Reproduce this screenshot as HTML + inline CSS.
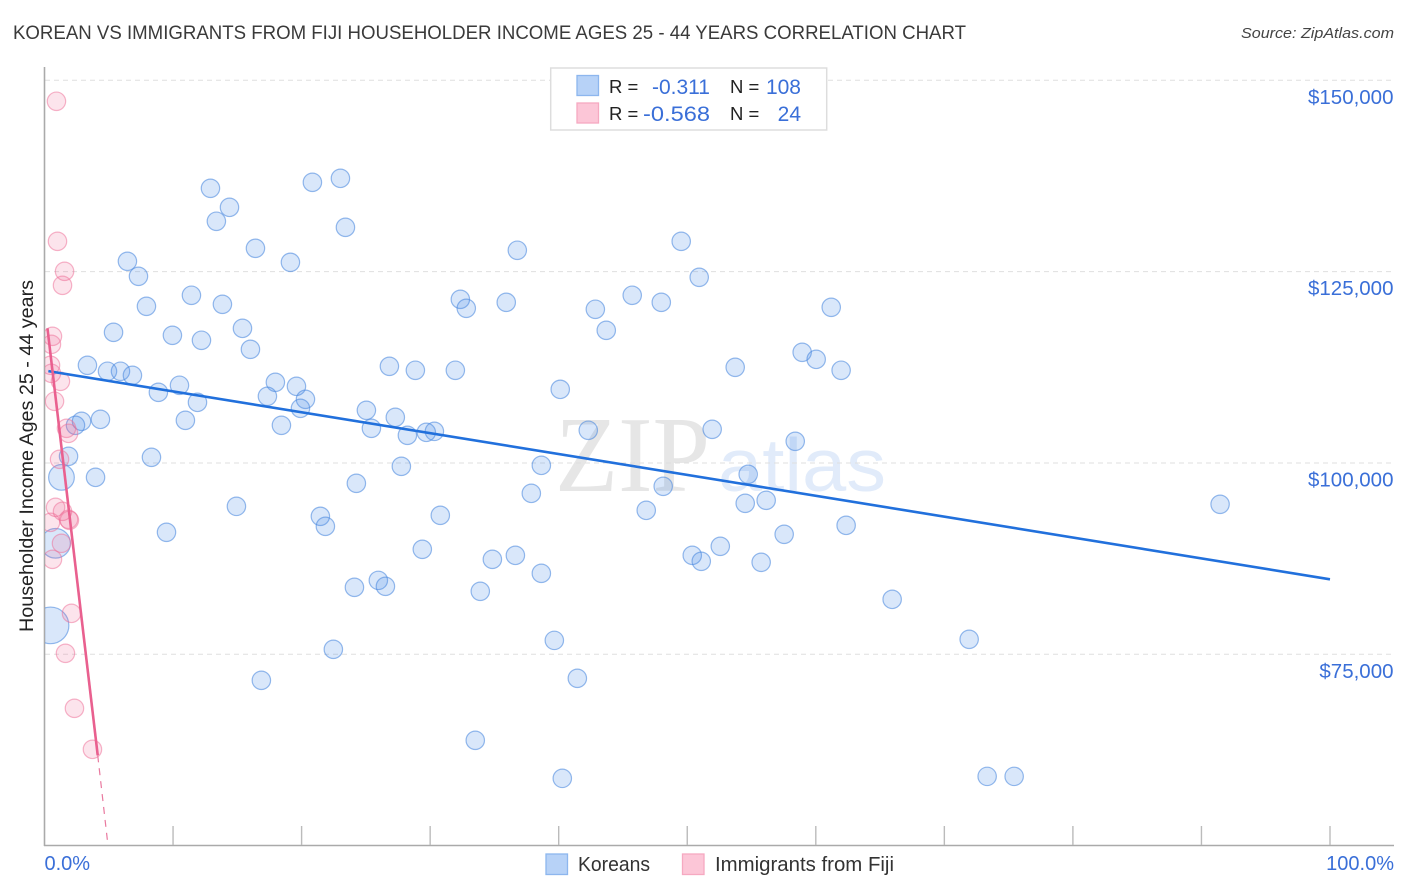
<!DOCTYPE html>
<html lang="en">
<head>
<meta charset="utf-8">
<title>Korean vs Immigrants from Fiji Householder Income Correlation Chart</title>
<style>
html,body{margin:0;padding:0;background:#fff;width:1406px;height:892px;overflow:hidden}
svg{display:block;font-family:"Liberation Sans",sans-serif}
</style>
</head>
<body>
<svg id="chart" xmlns="http://www.w3.org/2000/svg" width="1406" height="892" viewBox="0 0 1406 892">
  <defs>
    <clipPath id="plot-clip"><rect x="45" y="60" width="1349" height="785"/></clipPath>
  </defs>
  <text x="13" y="39" font-size="19" fill="#3a3a3a" textLength="953" lengthAdjust="spacingAndGlyphs">KOREAN VS IMMIGRANTS FROM FIJI HOUSEHOLDER INCOME AGES 25 - 44 YEARS CORRELATION CHART</text>
  <text x="1394" y="38" font-size="15" font-style="italic" fill="#444" text-anchor="end" textLength="153" lengthAdjust="spacingAndGlyphs">Source: ZipAtlas.com</text>

  <g>
    <text x="555" y="491" font-family="'Liberation Serif',serif" font-size="108" fill="#e6e6e6" textLength="155" lengthAdjust="spacingAndGlyphs">ZIP</text>
    <text x="718" y="491" font-size="75" fill="#e1ebfa" textLength="168" lengthAdjust="spacingAndGlyphs">atlas</text>
  </g>

  <g id="grid"></g>
  <g id="axes"></g>
  <g id="korean-points" clip-path="url(#plot-clip)"></g>
  <g id="fiji-points" clip-path="url(#plot-clip)"></g>
  <g id="trends"></g>
  <g id="tick-labels"></g>

  <text transform="translate(33,456) rotate(-90)" font-size="19" fill="#222" text-anchor="middle" textLength="352" lengthAdjust="spacingAndGlyphs">Householder Income Ages 25 - 44 years</text>

  <g>
    <rect x="550.7" y="68" width="276" height="62" fill="#fff" stroke="#ddd" stroke-width="1.5"/>
    <rect x="577" y="75.5" width="21.5" height="20" fill="#b7d2f7" stroke="#8db6ee" stroke-width="1.3"/>
    <rect x="577" y="103" width="21.5" height="20" fill="#fcc6d7" stroke="#f6a9c1" stroke-width="1.3"/>
    <text x="609" y="93" font-size="18.5" fill="#222">R =</text>
    <text x="710" y="94" font-size="21" fill="#3a6fd8" text-anchor="end" textLength="58" lengthAdjust="spacingAndGlyphs">-0.311</text>
    <text x="730" y="93" font-size="18.5" fill="#222">N =</text>
    <text x="801" y="94" font-size="21" fill="#3a6fd8" text-anchor="end">108</text>
    <text x="609" y="120" font-size="18.5" fill="#222">R =</text>
    <text x="710" y="121" font-size="21" fill="#3a6fd8" text-anchor="end" textLength="67" lengthAdjust="spacingAndGlyphs">-0.568</text>
    <text x="730" y="120" font-size="18.5" fill="#222">N =</text>
    <text x="801" y="121" font-size="21" fill="#3a6fd8" text-anchor="end">24</text>
  </g>

  <g>
    <rect x="546" y="854" width="21.5" height="20.5" fill="#b7d2f7" stroke="#8db6ee" stroke-width="1.3"/>
    <text x="578" y="871" font-size="20" fill="#333" textLength="72" lengthAdjust="spacingAndGlyphs">Koreans</text>
    <rect x="682.5" y="854" width="21.5" height="20.5" fill="#fcc6d7" stroke="#f6a9c1" stroke-width="1.3"/>
    <text x="715" y="871" font-size="20" fill="#333" textLength="179" lengthAdjust="spacingAndGlyphs">Immigrants from Fiji</text>
  </g>
</svg>
<script>
var yTickValues = [150000, 125000, 100000, 75000];
var yTickLabels = ["$150,000", "$125,000", "$100,000", "$75,000"];
var xTickValues = [0, 10, 20, 30, 40, 50, 60, 70, 80, 90, 100];
var xEndValues = [0, 100];
var xEndLabels = ["0.0%", "100.0%"];

var koreanShare = [12.91,13.37,14.39,20.84,23.02,23.41,16.41,19.13,6.45,7.31,7.93,11.43,13.84,9.95,12.21,15.40,16.02,5.37,3.34,4.90,5.91,6.84,8.86,10.50,11.90,10.96,17.96,17.34,19.60,20.30,19.91,18.43,25.04,25.43,27.29,28.23,29.70,30.33,26.83,28.85,31.96,32.35,32.81,35.92,36.78,42.85,43.70,45.72,47.98,49.53,50.93,53.73,58.94,60.03,61.97,61.20,40.12,42.30,38.65,37.87,51.94,58.40,54.74,54.51,56.14,57.54,62.36,48.13,46.81,50.39,51.09,52.57,55.75,65.94,71.93,91.45,73.33,75.43,39.66,41.45,33.51,40.28,38.65,36.63,34.84,33.90,29.39,30.79,27.76,24.26,21.46,21.85,25.97,26.52,24.11,22.47,16.87,14.93,9.49,8.32,3.97,4.35,2.88,2.41,1.87,1.32,0.86,0.47];
var koreanIncome = [135890,131580,133400,136670,137190,130790,128050,126220,126350,124390,120470,121910,120730,116680,116030,117590,114850,117070,112760,111980,111980,111450,109230,110150,107920,105570,110540,108710,110010,108320,107140,104920,106880,104530,105960,103610,104000,104130,112630,112110,112110,121380,120210,120990,127790,120080,117330,121910,120990,128960,124260,112500,114460,113540,112110,120340,109620,104270,99690,96030,104400,102830,98520,94730,95120,90680,91850,96950,93810,87930,87150,89110,87020,82180,76960,94600,59050,59050,76820,71860,63760,58790,85580,87930,87410,83230,88720,93160,99560,97340,93030,91720,84660,83880,83750,75650,71600,94330,90940,100740,98120,105700,105440,104920,100870,98120,89500,78780];
var koreanWeight = [1,1,1,1,1,1,1,1,1,1,1,1,1,1,1,1,1,1,1,1,1,1,1,1,1,1,1,1,1,1,1,1,1,1,1,1,1,1,1,1,1,1,1,1,1,1,1,1,1,1,1,1,1,1,1,1,1,1,1,1,1,1,1,1,1,1,1,1,1,1,1,1,1,1,1,1,1,1,1,1,1,1,1,1,1,1,1,1,1,1,1,1,1,1,1,1,1,1,1,1,1,1,1,1,1,1.95,2.6,3.96];

var fijiShare = [0.93,1.01,1.56,1.40,0.62,0.54,0.47,0.54,1.24,0.78,1.71,1.87,1.17,0.86,1.40,0.47,1.94,1.87,1.32,0.62,2.10,1.63,2.33,3.73];
var fijiIncome = [147260,128960,125040,123210,116550,115500,112760,111710,110670,108060,104530,103870,100480,94200,93680,92240,92510,92640,89500,87410,80350,75130,67940,62580];
var fijiWeight = [1,1,1,1,1,1,1,1,1,1,1,1,1,1,1,1,1,1,1,1,1,1,1,1];

var koreanTrendShare = [0.3, 100];
var koreanTrendIncome = [112000, 84800];
var fijiTrendShare = [0.23, 4.14];
var fijiTrendIncome = [117600, 61800];
var fijiDashShare = [4.14, 4.92];
var fijiDashIncome = [61800, 50300];

var NS = 'http://www.w3.org/2000/svg';
function xScale(p) { return 44.5 + p * 12.855; }
function yScale(v) { return 80.3 + (150000 - v) * 0.0076533; }
function radius(w) { return 9.2 * Math.sqrt(w); }
function make(tag, attrs, parent) {
  var el = document.createElementNS(NS, tag);
  Object.keys(attrs).forEach(function (k) { el.setAttribute(k, attrs[k]); });
  parent.appendChild(el);
  return el;
}

var grid = document.getElementById('grid');
yTickValues.forEach(function (v) {
  var line = make('line', { x1: 45, x2: 1394, y1: yScale(v), y2: yScale(v), stroke: '#dfdfdf', 'stroke-width': 1, 'stroke-dasharray': '5 4' }, grid);
  
  
});

var axes = document.getElementById('axes');
var yAxis = make('line', { x1: 44.5, x2: 44.5, y1: 67, y2: 846, stroke: '#aaa', 'stroke-width': 1.6 }, axes);


var xAxis = make('line', { x1: 44, x2: 1394, y1: 845.5, y2: 845.5, stroke: '#aaa', 'stroke-width': 1.6 }, axes);


xTickValues.forEach(function (p) {
  if (p === 0) return;
  var tick = make('line', { x1: xScale(p), x2: xScale(p), y1: 826, y2: 845, stroke: '#bbb', 'stroke-width': 1.4 }, axes);
  
  
});

function drawPoints(groupId, xs, ys, ws, fill, stroke, fillAlpha, strokeAlpha, name) {
  var g = document.getElementById(groupId);
  xs.forEach(function (p, i) {
    var c = make('circle', { cx: xScale(p), cy: yScale(ys[i]), r: radius(ws[i]), fill: fill, 'fill-opacity': fillAlpha, stroke: stroke, 'stroke-opacity': strokeAlpha, 'stroke-width': 1.2 }, g);
    
    
  });
}
drawPoints('korean-points', koreanShare, koreanIncome, koreanWeight, '#4a8fe8', '#4a88de', 0.21, 0.58, 'korean-point');
drawPoints('fiji-points', fijiShare, fijiIncome, fijiWeight, '#f0608c', '#ee6f98', 0.17, 0.52, 'fiji-point');

var trends = document.getElementById('trends');
var kt = make('line', { x1: xScale(koreanTrendShare[0]), y1: yScale(koreanTrendIncome[0]), x2: xScale(koreanTrendShare[1]), y2: yScale(koreanTrendIncome[1]), stroke: '#2170dc', 'stroke-width': 2.6 }, trends);


var ft = make('line', { x1: xScale(fijiTrendShare[0]), y1: yScale(fijiTrendIncome[0]), x2: xScale(fijiTrendShare[1]), y2: yScale(fijiTrendIncome[1]), stroke: '#e9608f', 'stroke-width': 2.6 }, trends);


var fd = make('line', { x1: xScale(fijiDashShare[0]), y1: yScale(fijiDashIncome[0]), x2: xScale(fijiDashShare[1]), y2: yScale(fijiDashIncome[1]), stroke: '#e9799f', 'stroke-width': 1.2, 'stroke-dasharray': '7 6' }, trends);



var labels = document.getElementById('tick-labels');
yTickValues.forEach(function (v, i) {
  var t = make('text', { x: 1393.5, y: yScale(v) + 23.5, 'font-size': 20.5, fill: '#3a6fd8', 'text-anchor': 'end' }, labels);
  
  
  t.textContent = yTickLabels[i];
});
xEndValues.forEach(function (p, i) {
  var t = make('text', { x: i === 0 ? xScale(p) : 1394, y: 870, 'font-size': 20, fill: '#3a6fd8', 'text-anchor': i === 0 ? 'start' : 'end' }, labels);
  
  
  t.textContent = xEndLabels[i];
});
</script>
</body>
</html>
